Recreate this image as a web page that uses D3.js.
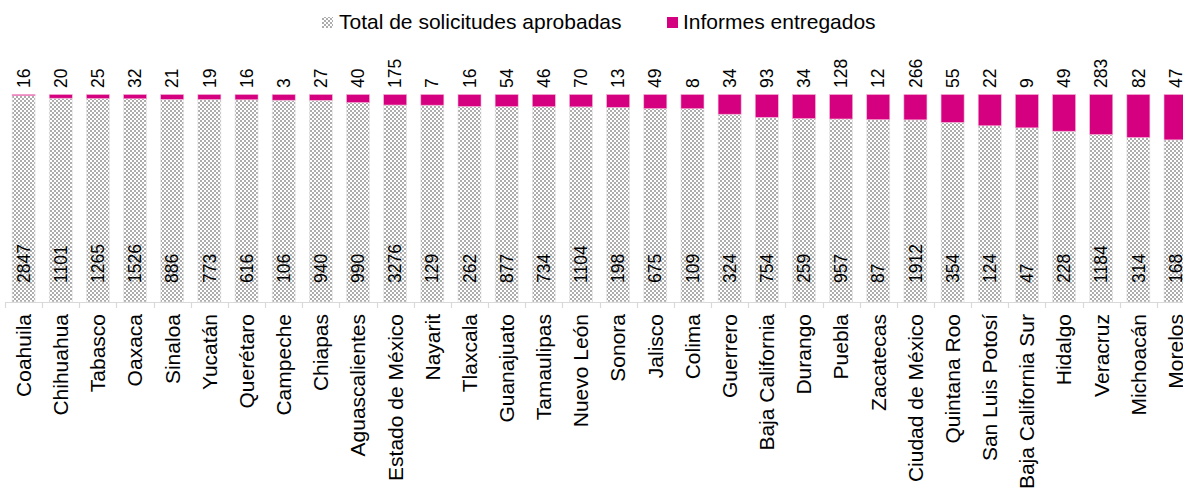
<!DOCTYPE html>
<html>
<head>
<meta charset="utf-8">
<script src="https://cdn.jsdelivr.net/npm/d3@7"></script>
<style>
  html, body { margin: 0; padding: 0; background: #fff; }
  svg { display: block; font-family: "Liberation Sans", Arial, sans-serif; }
</style>
</head>
<body>
<svg id="chart" width="1183" height="488"></svg>
<script>
const categories = ["Coahuila","Chihuahua","Tabasco","Oaxaca","Sinaloa","Yucatán","Querétaro","Campeche","Chiapas","Aguascalientes","Estado de México","Nayarit","Tlaxcala","Guanajuato","Tamaulipas","Nuevo León","Sonora","Jalisco","Colima","Guerrero","Baja California","Durango","Puebla","Zacatecas","Ciudad de México","Quintana Roo","San Luis Potosí","Baja California Sur","Hidalgo","Veracruz","Michoacán","Morelos"];
const totalAprobadas = [2847,1101,1265,1526,886,773,616,106,940,990,3276,129,262,877,734,1104,198,675,109,324,754,259,957,87,1912,354,124,47,228,1184,314,168];
const informesEntregados = [16,20,25,32,21,19,16,3,27,40,175,7,16,54,46,70,13,49,8,34,93,34,128,12,266,55,22,9,49,283,82,47];
const seriesNames = ["Total de solicitudes aprobadas","Informes entregados"];

const MAGENTA = "#d5007f";
const svg = d3.select("#chart");

// checkerboard pattern
const defs = svg.append("defs");
const pat = defs.append("pattern").attr("id","checker").attr("patternUnits","userSpaceOnUse")
  .attr("width",4).attr("height",4);
pat.append("rect").attr("width",4).attr("height",4).attr("fill","#ffffff");
pat.append("rect").attr("width",2).attr("height",2).attr("fill","#adadad");
pat.append("rect").attr("x",2).attr("y",2).attr("width",2).attr("height",2).attr("fill","#adadad");

const data = categories.map((c,i)=>({cat:c, total:totalAprobadas[i], inf:informesEntregados[i]}));
const stacked = d3.stack().keys(["total","inf"]).offset(d3.stackOffsetExpand)(data);

const left = 5, band = 37.16;
const x = d3.scaleBand().domain(categories).range([left, left + band*categories.length])
  .paddingInner(0.38).paddingOuter(0.19);
const y = d3.scaleLinear().domain([0,1]).range([302, 94.5]);

// bars
const fills = ["url(#checker)", MAGENTA];
const strokes = ["#e6e6e6", "#f4b3d6"];
stacked.forEach((s,k)=>{
  svg.append("g").selectAll("rect").data(s).join("rect")
    .attr("x", d=>x(d.data.cat))
    .attr("width", x.bandwidth())
    .attr("y", d=>y(d[1]))
    .attr("height", d=>Math.max(0, y(d[0])-y(d[1])))
    .attr("fill", fills[k])
    .attr("stroke", strokes[k]).attr("stroke-width", 0.6);
});

// axis
const axisG = svg.append("g");
axisG.append("line").attr("x1", left).attr("x2", 1183).attr("y1", 302.5).attr("y2", 302.5)
  .attr("stroke", "#d9d9d9").attr("stroke-width", 1.2);
const boundaries = d3.range(categories.length+1).map(i=>left + i*x.step());
axisG.selectAll("line.tick").data(boundaries).join("line").attr("class","tick")
  .attr("x1", d=>Math.round(d)+0.5).attr("x2", d=>Math.round(d)+0.5)
  .attr("y1", 302).attr("y2", 308).attr("stroke","#d9d9d9").attr("stroke-width",1.2);

// category labels
svg.append("g").selectAll("text").data(categories).join("text")
  .attr("transform", d=>`translate(${x(d)+x.bandwidth()/2},314) rotate(-90)`)
  .attr("text-anchor","end").attr("dy","0.35em")
  .attr("font-size", 21).attr("fill","#000").text(d=>d);

// top labels (informes)
svg.append("g").selectAll("text").data(data).join("text")
  .attr("transform", d=>`translate(${x(d.cat)+x.bandwidth()/2},88) rotate(-90)`)
  .attr("text-anchor","start").attr("dy","0.35em")
  .attr("font-size", 17.5).attr("fill","#000").text(d=>d.inf);

// inner labels (totals)
svg.append("g").selectAll("text").data(data).join("text")
  .attr("transform", d=>`translate(${x(d.cat)+x.bandwidth()/2},283) rotate(-90)`)
  .attr("text-anchor","start").attr("dy","0.35em")
  .attr("font-size", 17.5).attr("fill","#000").text(d=>d.total);

// legend
const lg = svg.append("g");
lg.append("rect").attr("x",322).attr("y",17).attr("width",11).attr("height",11).attr("fill","url(#checker)");
lg.append("text").attr("x",339).attr("y",29).attr("font-size",21).text(seriesNames[0]);
lg.append("rect").attr("x",667).attr("y",17).attr("width",11).attr("height",11).attr("fill",MAGENTA);
lg.append("text").attr("x",683).attr("y",29).attr("font-size",21).text(seriesNames[1]);
</script>
</body>
</html>
